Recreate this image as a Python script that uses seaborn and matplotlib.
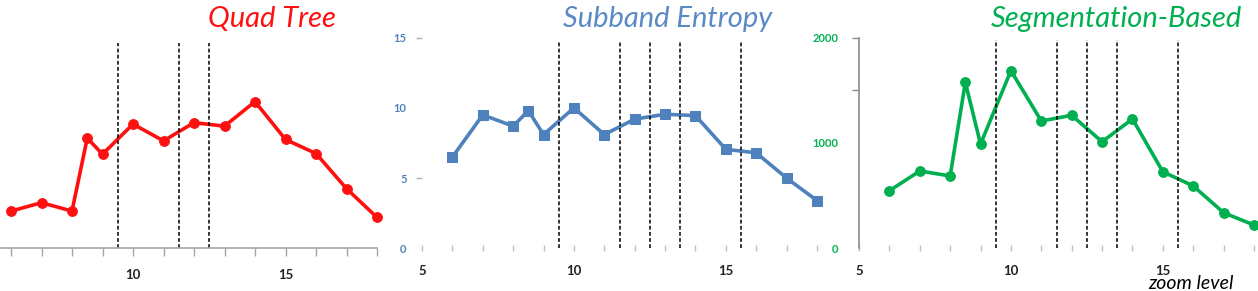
import matplotlib
matplotlib.use("Agg")
import matplotlib.pyplot as plt
import seaborn as sns

# zoom levels shared by the three panels
zoom = [6, 7, 8, 8.5, 9, 10, 11, 12, 13, 14, 15, 16, 17, 18]

quad_tree = [2.65, 3.25, 2.65, 7.85, 6.7, 8.85, 7.65, 8.95, 8.7, 10.45, 7.75, 6.75, 4.25, 2.2]
subband = [6.5, 9.5, 8.7, 9.8, 8.1, 10.0, 8.1, 9.2, 9.55, 9.45, 7.05, 6.8, 5.0, 3.4]
segmentation = [547, 734, 687, 1576, 990, 1687, 1209, 1263, 1012, 1228, 727, 592, 338, 221]

# dashed split lines for each panel
quad_splits = [9.5, 11.5, 12.5]
subband_splits = [9.5, 11.5, 12.5, 13.5, 15.5]
seg_splits = [9.5, 11.5, 12.5, 13.5, 15.5]

titles = ["Quad Tree", "Subband Entropy", "Segmentation-Based"]
x_labels = {5: "5", 10: "10", 15: "15"}

red = "#ff1010"
blue = "#4f81bd"
green = "#00b050"

sns.set_style("white")
plt.rcParams["font.family"] = ["Lato", "DejaVu Sans"]

W, H = 1258, 291
fig = plt.figure(figsize=(W / 100, H / 100), dpi=100)


def px_axes(left, width):
    bottom = 42.7
    height = 210.6
    return fig.add_axes([left / W, bottom / H, width / W, height / H])


ax1 = px_axes(-19.5, 396.5)
ax2 = px_axes(422, 395)
ax3 = px_axes(859, 395)

for ax in (ax1, ax2, ax3):
    ax.set_facecolor("none")
    for s in ax.spines.values():
        s.set_visible(False)
    ax.set_xlim(5, 18)
    ax.set_xticks(range(5, 19))
    labels = [x_labels.get(t, "") for t in range(5, 19)]
    if ax is ax1:
        labels[0] = ""  # the 5 of the first panel falls outside the picture
    ax.set_xticklabels(labels, fontsize=9.5, color="#222222", fontweight="bold")

# panel 1: Quad Tree
sns.lineplot(x=zoom, y=quad_tree, ax=ax1, color=red, linewidth=2.6,
             marker="o", markersize=7, markeredgecolor=red, clip_on=False)
ax1.set_ylim(0, 15)
ax1.vlines(quad_splits, 0, 14.6, colors="black", linestyles=(0, (2.5, 1.5)), linewidth=1.1)
ax1.spines["bottom"].set_visible(True)
ax1.spines["bottom"].set_color("#a6a6a6")
ax1.spines["bottom"].set_linewidth(1.2)
ax1.set_yticks([])
ax1.tick_params(axis="x", length=6, width=1, color="#a6a6a6", direction="out", pad=9, bottom=True)

# panel 2: Subband Entropy
sns.lineplot(x=zoom, y=subband, ax=ax2, color=blue, linewidth=2.6,
             marker="s", markersize=6.5, markeredgecolor=blue, clip_on=False)
ax2.set_ylim(0, 15)
ax2.vlines(subband_splits, 0, 14.8, colors="black", linestyles=(0, (2.5, 1.5)), linewidth=1.1)
ax2.set_yticks([0, 5, 10, 15])
ax2.set_yticklabels(["0", "5", "10", "15"], fontsize=8, color=blue, fontweight="bold")
ax2.tick_params(axis="y", length=4, width=1, color="#b0b0b0", pad=7, left=True)
for i, t in enumerate(ax2.yaxis.get_major_ticks()):
    if i % 2 == 0:
        t.tick1line.set_visible(False)
ax2.tick_params(axis="x", length=4, width=1, color="#c0c0c0", direction="inout", pad=10, bottom=True)

# panel 3: Segmentation-Based
sns.lineplot(x=zoom, y=segmentation, ax=ax3, color=green, linewidth=2.6,
             marker="o", markersize=7, markeredgecolor=green, clip_on=False)
ax3.set_ylim(0, 2000)
ax3.vlines(seg_splits, 0, 1978, colors="black", linestyles=(0, (2.5, 1.5)), linewidth=1.1)
ax3.spines["left"].set_visible(True)
ax3.spines["left"].set_color("#8c8c8c")
ax3.spines["left"].set_linewidth(1.2)
ax3.set_yticks([0, 1000, 1500, 2000])
ax3.set_yticklabels(["0", "1000", "", "2000"], fontsize=8, color=green, fontweight="bold")
ax3.tick_params(axis="y", length=5, width=1, color="#8c8c8c", pad=10, left=True)
for i, t in enumerate(ax3.yaxis.get_major_ticks()):
    if i < 2:
        t.tick1line.set_visible(False)
ax3.tick_params(axis="x", length=4, width=1, color="#c0c0c0", direction="inout", pad=10, bottom=True)

for ax in (ax1, ax2, ax3):
    ax.set_xlabel("")
    ax.set_ylabel("")

# titles
fig.text(272 / W, 1 - 19 / H, titles[0], color=red, fontsize=21, style="italic",
         ha="center", va="center")
fig.text(668 / W, 1 - 19 / H, titles[1], color="#5a8ac6", fontsize=21, style="italic",
         ha="center", va="center")
fig.text(1116 / W, 1 - 19 / H, titles[2], color=green, fontsize=21, style="italic",
         ha="center", va="center")

fig.text(1148 / W, 1 - 289 / H, "zoom level", color="black", fontsize=14, style="italic",
         ha="left", va="baseline")

fig.savefig("out.png", dpi=100)
